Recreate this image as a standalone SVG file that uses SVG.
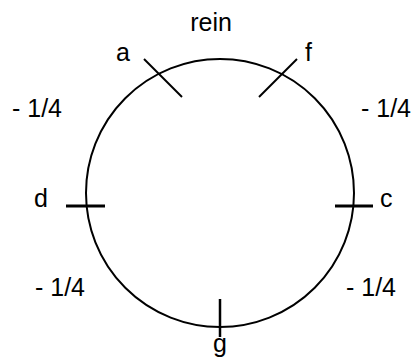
<svg xmlns="http://www.w3.org/2000/svg" width="412" height="360" viewBox="0 0 412 360">
<style>
text{font-family:"Liberation Sans",Arial,sans-serif;font-size:25px;fill:#000}
.ln{stroke:#000;fill:none}
</style>
<rect width="412" height="360" fill="#fff"/>
<g id="ring">
<circle class="ln" cx="220" cy="193" r="134" stroke-width="2"/>
</g>
<g id="ticks">
<line class="ln" x1="144" y1="59" x2="182" y2="97" stroke-width="2"/>
<line class="ln" x1="297" y1="59" x2="259" y2="97" stroke-width="2"/>
<line class="ln" x1="66" y1="206" x2="105" y2="206" stroke-width="3"/>
<line class="ln" x1="335" y1="206" x2="373" y2="206" stroke-width="3"/>
<line class="ln" x1="220" y1="299" x2="220" y2="337" stroke-width="2.5"/>
</g>
<g id="labels">
<text x="211" y="31" text-anchor="middle">rein</text>
<text x="116" y="61">a</text>
<text x="305" y="61">f</text>
<text x="34" y="207">d</text>
<text x="380" y="207">c</text>
<text x="220" y="352" text-anchor="middle">g</text>
<text x="12" y="117">- 1/4</text>
<text x="361" y="117">- 1/4</text>
<text x="35" y="296">- 1/4</text>
<text x="346" y="296">- 1/4</text>
</g>
</svg>
